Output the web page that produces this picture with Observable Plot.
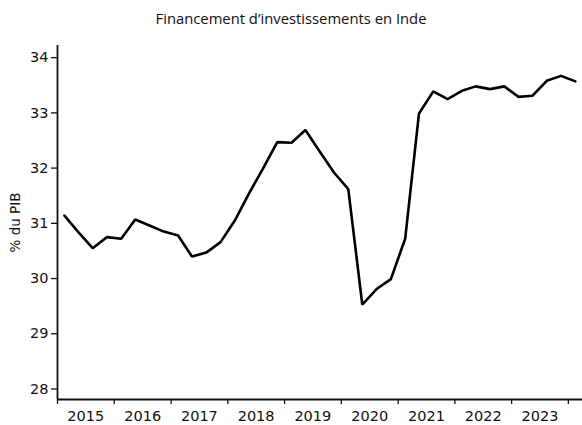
<!DOCTYPE html>
<html><head><meta charset="utf-8">
<script src="https://cdn.jsdelivr.net/npm/d3@7"></script>
<script src="https://cdn.jsdelivr.net/npm/@observablehq/plot@0.6"></script>
<style>
body{margin:0;background:#fff;font-family:"DejaVu Sans",sans-serif;}
#title{height:36px;line-height:36px;text-align:center;font-family:"Open Sans",sans-serif;font-size:14.8px;color:#111;}
svg{display:block;}
</style></head><body>
<div id="chart"><div id="title">Financement d’investissements en Inde</div></div>
<script>
const quarters = [
  "2015-Q1","2015-Q2","2015-Q3","2015-Q4",
  "2016-Q1","2016-Q2","2016-Q3","2016-Q4",
  "2017-Q1","2017-Q2","2017-Q3","2017-Q4",
  "2018-Q1","2018-Q2","2018-Q3","2018-Q4",
  "2019-Q1","2019-Q2","2019-Q3","2019-Q4",
  "2020-Q1","2020-Q2","2020-Q3","2020-Q4",
  "2021-Q1","2021-Q2","2021-Q3","2021-Q4",
  "2022-Q1","2022-Q2","2022-Q3","2022-Q4",
  "2023-Q1","2023-Q2","2023-Q3","2023-Q4",
  "2024-Q1"
];
const values = [
  31.14, 30.84, 30.55, 30.75,
  30.72, 31.07, 30.96, 30.85,
  30.78, 30.40, 30.47, 30.66,
  31.05, 31.53, 31.99, 32.47,
  32.46, 32.69, 32.30, 31.92,
  31.62, 29.53, 29.81, 29.99,
  30.72, 32.99, 33.39, 33.25,
  33.40, 33.48, 33.43, 33.48,
  33.29, 33.31, 33.58, 33.67,
  33.57
];
const yearLabels = ["2015","2016","2017","2018","2019","2020","2021","2022","2023"];
const yearBoundaries = ["2015","2016","2017","2018","2019","2020","2021","2022","2023","2024"];
const yTicks = [28, 29, 30, 31, 32, 33, 34];
const yLabel = "% du PIB";

function qDate(q) {
  const [y, qq] = q.split("-Q");
  return new Date(Date.UTC(+y, (+qq - 1) * 3 + 1, 15));
}
const data = quarters.map((q, i) => ({date: qDate(q), value: values[i]}));
const boundaryDates = yearBoundaries.map(y => new Date(Date.UTC(+y, 0, 1)));
const labelDates = yearLabels.map(y => new Date(Date.UTC(+y, 6, 2)));

const xDomain = [new Date(Date.UTC(2015, 0, 1)), new Date(Date.UTC(2024, 3, 1))];
const yDomain = [27.81, 34.22];

const plot = Plot.plot({
  width: 582,
  height: 389,
  marginTop: 9,
  marginBottom: 26,
  marginLeft: 57,
  marginRight: 0,
  style: {fontFamily: "'DejaVu Sans', sans-serif", fontSize: "14px", color: "#111", background: "#fff"},
  x: {type: "utc", domain: xDomain},
  y: {domain: yDomain},
  marks: [
    Plot.axisY({ticks: yTicks, tickSize: 6, tickPadding: 3, tickFormat: d3.format("d"), label: null, fontSize: 14.5, strokeWidth: 1.3}),
    Plot.axisX({ticks: boundaryDates, tickSize: 5, tickFormat: () => "", label: null, strokeWidth: 1.3}),
    Plot.axisX({ticks: labelDates, tickSize: 0, tickPadding: 11, tickFormat: d3.utcFormat("%Y"), label: null, fontSize: 14.5}),
    Plot.ruleX([xDomain[0]], {stroke: "#111", strokeWidth: 1.8}),
    Plot.ruleY([yDomain[0]], {stroke: "#111", strokeWidth: 1.8}),
    Plot.text([yLabel], {frameAnchor: "left", textAnchor: "middle", rotate: -90, dx: -42, fontSize: 13.5, fill: "#111"}),
    Plot.line(data, {x: "date", y: "value", stroke: "#000", strokeWidth: 2.6, strokeLinejoin: "miter"})
  ]
});
document.getElementById("chart").appendChild(plot);
</script>
</body></html>
